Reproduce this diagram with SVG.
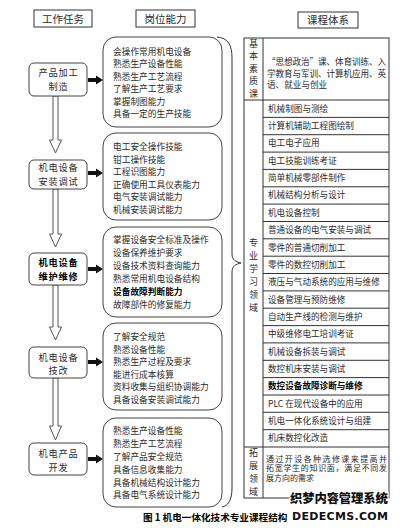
<svg xmlns="http://www.w3.org/2000/svg" width="402" height="528" viewBox="0 0 402 528">
<style>
.hd{fill:#fff;stroke:#333;stroke-width:1}
.tb{fill:#fff;stroke:#444;stroke-width:1}
.cb{fill:#fff;stroke:#444;stroke-width:1}
.ln{stroke:#333;stroke-width:1;fill:none}
text{font-family:"Noto Sans CJK SC","Noto Sans",sans-serif;fill:#2a2a2a}
.h{font-size:10.5px;text-anchor:middle}
.tt{font-size:9.2px;letter-spacing:0.8px;text-anchor:middle}
.c{font-size:8.7px}
.r{font-size:8.6px}
.s{font-size:8px}
.v{font-size:9px;text-anchor:middle}
.b{font-weight:bold;fill:#000}
.wm{font-weight:900;fill:#111;stroke:#fff;stroke-width:2.2;paint-order:stroke}
</style>
<rect width="402" height="528" fill="#fff"/>

<!-- headers -->
<g id="hdr-task"><rect class="hd" x="34" y="10" width="58" height="17"/><text class="h" x="63" y="22.5">工作任务</text></g>
<g id="hdr-ability"><rect class="hd" x="136" y="10" width="59" height="17"/><text class="h" x="165.5" y="22.5">岗位能力</text></g>
<g id="hdr-course"><rect class="hd" x="298" y="12" width="60" height="16"/><text class="h" x="328" y="24">课程体系</text></g>

<!-- connectors -->
<g id="connectors">
<g fill="#fff" stroke="#555" stroke-width="1">
<polygon points="53,96 53,140 49.5,140 55.5,153 61.5,140 58,140 58,96"/>
<polygon points="53,189 53,234 49.5,234 55.5,247 61.5,234 58,234 58,189"/>
<polygon points="53,285 53,327 49.5,327 55.5,340 61.5,327 58,327 58,285"/>
<polygon points="53,378 53,426 49.5,426 55.5,440 61.5,426 58,426 58,378"/>
</g>
<g fill="#111">
<polygon points="88,78 96,78 96,75.5 103,80 96,84.5 96,82 88,82"/>
<polygon points="88,171 96,171 96,168.5 103,173 96,177.5 96,175 88,175"/>
<polygon points="88,267 96,267 96,264.5 103,269 96,273.5 96,271 88,271"/>
<polygon points="88,360 96,360 96,357.5 103,362 96,366.5 96,364 88,364"/>
<polygon points="88,457 96,457 96,454.5 103,459 96,463.5 96,461 88,461"/>
</g>
<path class="ln" d="M217 37 C228 38 232 45 232 58 L232 254 C232 260 236 262 241 263 C236 264 232 266 232 272 L232 488 C232 500 228 506 222 507"/>
</g>

<!-- task nodes -->
<g id="task1"><rect class="tb" x="29" y="63" width="58" height="33" rx="5"/><text class="tt" x="58.4" y="76">产品加工</text><text class="tt" x="58.4" y="89.5">制造</text></g>
<g id="task2"><rect class="tb" x="29" y="160" width="58" height="29" rx="5"/><text class="tt" x="58.4" y="171">机电设备</text><text class="tt" x="58.4" y="184.5">安装调试</text></g>
<g id="task3"><rect class="tb" x="29" y="253" width="58" height="32" rx="5"/><text class="tt b" x="58.4" y="266">机电设备</text><text class="tt b" x="58.4" y="279.5">维护维修</text></g>
<g id="task4"><rect class="tb" x="29" y="347" width="58" height="31" rx="5"/><text class="tt" x="58.4" y="360.5">机电设备</text><text class="tt" x="58.4" y="374">技改</text></g>
<g id="task5"><rect class="tb" x="29" y="443" width="58" height="32" rx="5"/><text class="tt" x="58.4" y="457">机电产品</text><text class="tt" x="58.4" y="470.5">开发</text></g>

<!-- ability nodes -->
<g id="ability1"><rect class="cb" x="103" y="37" width="119" height="90" rx="13"/>
<text class="c" x="113" y="54.5">会操作常用机电设备</text>
<text class="c" x="113" y="67">熟悉生产设备性能</text>
<text class="c" x="113" y="79.5">熟悉生产工艺流程</text>
<text class="c" x="113" y="92">了解生产工艺要求</text>
<text class="c" x="113" y="104.5">掌握制图能力</text>
<text class="c" x="113" y="117">具备一定的生产技能</text></g>
<g id="ability2"><rect class="cb" x="103" y="133" width="119" height="87" rx="13"/>
<text class="c" x="113" y="150">电工安全操作技能</text>
<text class="c" x="113" y="162.5">钳工操作技能</text>
<text class="c" x="113" y="175">工程识图能力</text>
<text class="c" x="113" y="187.5">正确使用工具仪表能力</text>
<text class="c" x="113" y="200">电气安装调试能力</text>
<text class="c" x="113" y="212.5">机械安装调试能力</text></g>
<g id="ability3"><rect class="cb" x="103" y="227" width="119" height="90" rx="13"/>
<text class="c" x="113" y="243">掌握设备安全标准及操作</text>
<text class="c" x="113" y="256">设备保养维护要求</text>
<text class="c" x="113" y="269">设备技术资料查询能力</text>
<text class="c" x="113" y="282">熟悉常用机电设备结构</text>
<text class="c b" x="113" y="295">设备故障判断能力</text>
<text class="c" x="113" y="308">故障部件的修复能力</text></g>
<g id="ability4"><rect class="cb" x="103" y="323" width="119" height="87" rx="13"/>
<text class="c" x="113" y="340">了解安全规范</text>
<text class="c" x="113" y="352.5">熟悉设备性能</text>
<text class="c" x="113" y="365">熟悉生产过程及要求</text>
<text class="c" x="113" y="377.5">能进行成本核算</text>
<text class="c" x="113" y="390">资料收集与组织协调能力</text>
<text class="c" x="113" y="402.5">具备设备安装调试能力</text></g>
<g id="ability5"><rect class="cb" x="103" y="418" width="119" height="89" rx="13"/>
<text class="c" x="113" y="434">熟悉生产设备性能</text>
<text class="c" x="113" y="447">熟悉生产工艺流程</text>
<text class="c" x="113" y="460">了解产品安全规范</text>
<text class="c" x="113" y="472.5">具备信息收集能力</text>
<text class="c" x="113" y="485.5">具备机械结构设计能力</text>
<text class="c" x="113" y="498">具备电气系统设计能力</text></g>

<!-- course table -->
<g id="course-table">
<rect class="ln" x="244" y="38" width="145" height="460"/>
<line class="ln" x1="263" y1="38" x2="263" y2="498"/>
<line class="ln" x1="244" y1="100" x2="389" y2="100"/>
<line class="ln" x1="244" y1="447" x2="389" y2="447"/>
<g class="ln">
<line x1="263" y1="117.4" x2="389" y2="117.4"/>
<line x1="263" y1="134.7" x2="389" y2="134.7"/>
<line x1="263" y1="152.1" x2="389" y2="152.1"/>
<line x1="263" y1="169.4" x2="389" y2="169.4"/>
<line x1="263" y1="186.8" x2="389" y2="186.8"/>
<line x1="263" y1="204.1" x2="389" y2="204.1"/>
<line x1="263" y1="221.5" x2="389" y2="221.5"/>
<line x1="263" y1="238.8" x2="389" y2="238.8"/>
<line x1="263" y1="256.2" x2="389" y2="256.2"/>
<line x1="263" y1="273.5" x2="389" y2="273.5"/>
<line x1="263" y1="290.9" x2="389" y2="290.9"/>
<line x1="263" y1="308.2" x2="389" y2="308.2"/>
<line x1="263" y1="325.6" x2="389" y2="325.6"/>
<line x1="263" y1="342.9" x2="389" y2="342.9"/>
<line x1="263" y1="360.3" x2="389" y2="360.3"/>
<line x1="263" y1="377.6" x2="389" y2="377.6"/>
<line x1="263" y1="395" x2="389" y2="395"/>
<line x1="263" y1="412.3" x2="389" y2="412.3"/>
<line x1="263" y1="429.7" x2="389" y2="429.7"/>
</g>
</g>
<g id="basic">
<text class="v" x="253.5" y="46.5">基</text>
<text class="v" x="253.5" y="59">本</text>
<text class="v" x="253.5" y="71.5">素</text>
<text class="v" x="253.5" y="84">质</text>
<text class="v" x="253.5" y="96.5">课</text>
<text class="r" x="267" y="65" textLength="119">“思想政治”课、体育训练、入</text>
<text class="r" x="267" y="76.5" textLength="119">学教育与军训、计算机应用、英</text>
<text class="r" x="267" y="88">语、就业与创业</text>
</g>
<g id="major">
<text class="v" x="253.5" y="246">专</text>
<text class="v" x="253.5" y="259">业</text>
<text class="v" x="253.5" y="272">学</text>
<text class="v" x="253.5" y="285">习</text>
<text class="v" x="253.5" y="298">领</text>
<text class="v" x="253.5" y="311">域</text>
<text class="r" x="268" y="111.7">机械制图与测绘</text>
<text class="r" x="268" y="129">计算机辅助工程图绘制</text>
<text class="r" x="268" y="146.4">电工电子应用</text>
<text class="r" x="268" y="163.7">电工技能训练考证</text>
<text class="r" x="268" y="181.1">简单机械零部件制作</text>
<text class="r" x="268" y="198.4">机械结构分析与设计</text>
<text class="r" x="268" y="215.8">机电设备控制</text>
<text class="r" x="268" y="233.1">普通设备的电气安装与调试</text>
<text class="r" x="268" y="250.5">零件的普通切削加工</text>
<text class="r" x="268" y="267.8">零件的数控切削加工</text>
<text class="r" x="268" y="285.2">液压与气动系统的应用与维修</text>
<text class="r" x="268" y="302.5">设备管理与预防维修</text>
<text class="r" x="268" y="319.9">自动生产线的检测与维护</text>
<text class="r" x="268" y="337.2">中级维修电工培训考证</text>
<text class="r" x="268" y="354.6">机械设备拆装与调试</text>
<text class="r" x="268" y="371.9">数控机床安装与调试</text>
<text class="r b" x="268" y="389.3">数控设备故障诊断与维修</text>
<text class="r" x="268" y="406.6">PLC 在现代设备中的应用</text>
<text class="r" x="268" y="424">机电一体化系统设计与组建</text>
<text class="r" x="268" y="441.3">机床数控化改造</text>
</g>
<g id="extend">
<text class="v" x="253.5" y="456">拓</text>
<text class="v" x="253.5" y="469">展</text>
<text class="v" x="253.5" y="482">领</text>
<text class="v" x="253.5" y="495">域</text>
<text class="s" x="266" y="461.5" textLength="121">通过开设各种选修课来提高并</text>
<text class="s" x="266" y="471" textLength="121">拓宽学生的知识面，满足不同发</text>
<text class="s" x="266" y="480.5">展方向的需求</text>
</g>

<!-- caption and watermark -->
<text x="143" y="521" style="font-size:9.6px;font-weight:bold;fill:#000">图 1 机电一体化技术专业课程结构</text>
<text class="wm" x="290" y="503" style="font-size:12.5px" textLength="98">织梦内容管理系统</text>
<text class="wm" x="292" y="520" style="font-size:11px;font-family:'DejaVu Sans',sans-serif" textLength="96">DEDECMS.COM</text>
</svg>
